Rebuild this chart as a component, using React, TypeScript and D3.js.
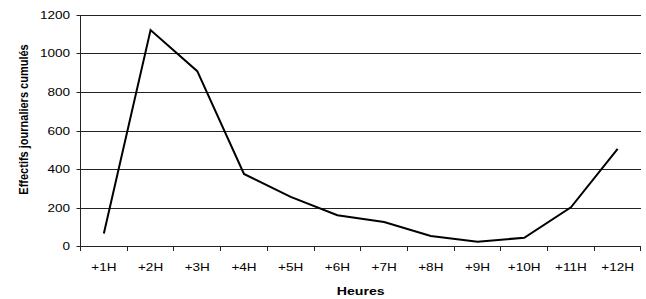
import React from 'react';
import * as d3 from 'd3';

const hours = ['+1H', '+2H', '+3H', '+4H', '+5H', '+6H', '+7H', '+8H', '+9H', '+10H', '+11H', '+12H'];
const effectifs = [65, 1122, 908, 374, 255, 160, 125, 52, 22, 43, 201, 505];
const yTicks = [0, 200, 400, 600, 800, 1000, 1200];

const width = 646;
const height = 299;
const margin = { top: 15, right: 5, bottom: 53, left: 80.5 };
// the reference text is stretched sideways
const sx = 1.23;

export default function App() {
  const w = width - margin.left - margin.right;
  const h = height - margin.top - margin.bottom;

  const x = d3.scaleBand().domain(hours).range([0, w]);
  const y = d3.scaleLinear().domain([0, 1200]).range([h, 0]);

  const line = d3.line<number>()
    .x((d, i) => (x(hours[i]) as number) + x.bandwidth() / 2)
    .y(d => y(d));

  const font = '"Liberation Sans", Arial, sans-serif';

  return (
    <svg width={width} height={height} style={{ position: 'absolute', left: 0, top: 0 }}>
      <rect width={width} height={height} fill="#fff" />
      <g transform={`translate(${margin.left},${margin.top})`} fontFamily={font}>
        {yTicks.map(t => (
          <g key={t} transform={`translate(0,${Math.round(y(t)) + 0.5})`}>
            {t > 0 && <line x1={0} x2={w} stroke="#222" strokeWidth={1} />}
            <line x1={-4} x2={0} stroke="#222" strokeWidth={1} />
            <text transform={`translate(-10.5,0) scale(${sx},1)`} dy="0.35em" textAnchor="end" fontSize={11} fill="#000">{t}</text>
          </g>
        ))}
        <line x1={0} x2={0} y1={0} y2={h} stroke="#222" />
        <line x1={0} x2={w} y1={h + 0.5} y2={h + 0.5} stroke="#222" />
        {hours.map(c => (
          <line key={'t' + c} x1={Math.round(x(c) as number)} x2={Math.round(x(c) as number)} y1={h} y2={h + 5} stroke="#222" />
        ))}
        <line x1={w - 0.5} x2={w - 0.5} y1={h} y2={h + 5} stroke="#222" />
        {hours.map(c => (
          <text key={c} transform={`translate(${(x(c) as number) + x.bandwidth() / 2},${h + 24.7}) scale(${sx},1)`} textAnchor="middle" fontSize={11} fill="#000">{c}</text>
        ))}
        <path d={line(effectifs) || ''} fill="none" stroke="#000" strokeWidth={2} strokeLinejoin="miter" />
        <text transform={`translate(${w / 2},${h + 49}) scale(${sx},1)`} textAnchor="middle" fontSize={11.5} fontWeight="bold">Heures</text>
        <text transform={`translate(${23 - margin.left},${104.5}) scale(${sx},1) rotate(-90)`} textAnchor="middle" dy="0.35em" fontSize={11} fontWeight="bold">Effectifs journaliers cumulés</text>
      </g>
    </svg>
  );
}
